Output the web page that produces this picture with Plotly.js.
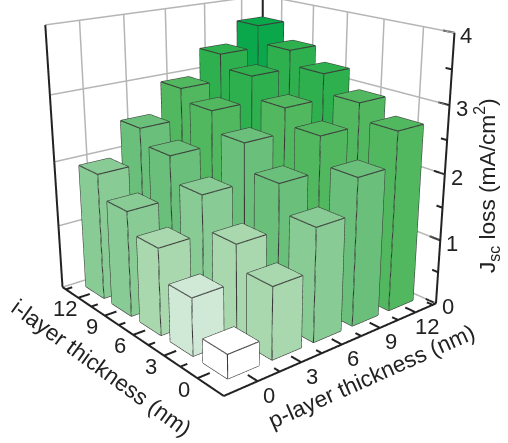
<!DOCTYPE html>
<html><head><meta charset="utf-8">
<script src="https://cdn.plot.ly/plotly-3.0.1.min.js"></script>
<style>html,body{margin:0;padding:0;background:#fff;overflow:hidden;width:508px;height:443px}#w{position:relative;width:508px;height:443px;overflow:hidden}#c{position:absolute;left:-230px;top:-247px;width:952px;height:830px}</style>
</head><body><div id="w"><div id="c"></div></div>
<script>
const pLayer=[0,3,6,9,12];
const iLayer=[0,3,6,9,12];
const jscI0=[0.35,1.06,1.68,2.2,2.7];
const jscI3=[0.85,1.4,2.08,2.6,2.94];
const jscI6=[1.3,1.88,2.47,2.84,3.22];
const jscI9=[1.6,2.25,2.77,3.16,3.44];
const jscI12=[1.94,2.48,2.95,3.36,3.7];
const values=[jscI0,jscI3,jscI6,jscI9,jscI12];
const zTicks=[0,1,2,3,4];
const bandColors=['#ffffff','#d0e9d6','#a9d8ae','#88cb94','#6abf7a','#52b860','#2fb04e','#0aa84a'];
const xr=[-2.2,13.8],yr=[-2.2,13.9],zr=[0,4],hw=1.05;
const vx=[],vy=[],vz=[],fi=[],fj=[],fk=[],fc=[];
const ex=[],ey=[],ez=[];
function seg(a,b,arr){arr[0].push(a[0],b[0],null);arr[1].push(a[1],b[1],null);arr[2].push(a[2],b[2],null);}
const edges=[ex,ey,ez];
iLayer.forEach((iv,r)=>pLayer.forEach((pv,c)=>{
 const h=values[r][c],n=vx.length;
 const col=bandColors[Math.min(7,Math.floor(h/0.5))];
 const xs=[pv-hw,pv+hw,pv+hw,pv-hw],ys=[iv-hw,iv-hw,iv+hw,iv+hw];
 for(const zz of [0,h])for(let k=0;k<4;k++){vx.push(xs[k]);vy.push(ys[k]);vz.push(zz);}
 const q=(a,b,cc,d)=>{fi.push(n+a,n+a);fj.push(n+b,n+cc);fk.push(n+cc,n+d);fc.push(col,col);};
 q(4,5,6,7);q(0,1,5,4);q(1,2,6,5);q(2,3,7,6);q(3,0,4,7);
 for(let k=0;k<4;k++){
  seg([xs[k],ys[k],h],[xs[(k+1)%4],ys[(k+1)%4],h],edges);
  seg([xs[k],ys[k],0],[xs[k],ys[k],h],edges);
  seg([xs[k],ys[k],0],[xs[(k+1)%4],ys[(k+1)%4],0],edges);
 }
}));
const gx=[],gy=[],gz=[],gl=[gx,gy,gz];
pLayer.forEach(v=>{seg([v,yr[1],0],[v,yr[1],4],gl);});
iLayer.forEach(v=>{seg([xr[1],v,0],[xr[1],v,4],gl);});
zTicks.slice(1).forEach(z=>{seg([xr[0],yr[1],z],[xr[1],yr[1],z],gl);seg([xr[1],yr[0],z],[xr[1],yr[1],z],gl);});
seg([xr[0],yr[1],0],[xr[1],yr[1],0],gl);seg([xr[1],yr[0],0],[xr[1],yr[1],0],gl);
const bx=[],by=[],bz=[],bl=[bx,by,bz];
seg([xr[0],yr[0],0],[xr[1],yr[0],0],bl);seg([xr[0],yr[0],0],[xr[0],yr[1],0],bl);
seg([xr[1],yr[0],0],[xr[1],yr[0],4],bl);seg([xr[0],yr[1],0],[xr[0],yr[1],4],bl);seg([xr[1],yr[1],0],[xr[1],yr[1],4],bl);
pLayer.forEach(v=>{seg([v,yr[0],0],[v,yr[0]+0.8,0],bl);seg([v+1.5,yr[0],0],[v+1.5,yr[0]+0.45,0],bl);});
iLayer.forEach(v=>{seg([xr[0],v,0],[xr[0]+0.8,v,0],bl);seg([xr[0],v+1.5,0],[xr[0]+0.45,v+1.5,0],bl);});
zTicks.forEach(z=>{seg([xr[1],yr[0],z],[xr[1],yr[0]+0.8,z],bl);if(z<4)seg([xr[1],yr[0],z+0.5],[xr[1],yr[0]+0.45,z+0.5],bl);});
const font={family:'Liberation Sans, Arial, sans-serif',size:22,color:'#222'};
const tfont={family:'Liberation Sans, Arial, sans-serif',size:22.7,color:'#222'};
const anns=[];
const A=o=>anns.push(Object.assign({showarrow:false,xanchor:'center',yanchor:'middle',font},o));
pLayer.forEach(v=>A({x:v,y:yr[0],z:0,text:String(v),yshift:-14,xshift:11}));
iLayer.forEach(v=>A({x:xr[0],y:v,z:0,text:String(v),yshift:-11,xshift:-13}));
zTicks.forEach(z=>A({x:xr[1],y:yr[0],z:z,text:String(z),xshift:12,yshift:-3}));
A({x:5,y:yr[0],z:0,text:'p-layer thickness (nm)',textangle:-24,yshift:-26,xshift:43,font:tfont});
A({x:xr[0],y:5,z:0,text:'i-layer thickness (nm)',textangle:36,yshift:-26,xshift:-41,font:tfont});
A({x:xr[1],y:yr[0],z:2,text:'J<sub>sc</sub> loss (mA/cm<sup>2</sup>)',textangle:-90,xshift:42,yshift:-11,font:tfont});
const axis=r=>({range:[r[0]-0.03,r[1]+0.03],autorange:false,showgrid:false,zeroline:false,showbackground:false,showspikes:false,showline:false,showticklabels:false,ticks:'',title:{text:''}});
const data=[
 {type:'mesh3d',x:vx,y:vy,z:vz,i:fi,j:fj,k:fk,facecolor:fc,flatshading:true,hoverinfo:'skip',lighting:{ambient:1,diffuse:0,specular:0,fresnel:0,roughness:1},showscale:false},
 {type:'scatter3d',mode:'lines',x:ex,y:ey,z:ez,line:{color:'#3a3a3a',width:2.2},hoverinfo:'skip',connectgaps:false},
 {type:'scatter3d',mode:'lines',x:gx,y:gy,z:gz,line:{color:'#b5b5b5',width:3},hoverinfo:'skip',connectgaps:false},
 {type:'scatter3d',mode:'lines',x:bx,y:by,z:bz,line:{color:'#222',width:4},hoverinfo:'skip',connectgaps:false}
];
const layout={width:952,height:830,margin:{l:0,r:0,t:0,b:0},showlegend:false,paper_bgcolor:'#fff',
 scene:{domain:{x:[0,1],y:[0,1]},xaxis:axis(xr),yaxis:axis(yr),zaxis:axis([-0.01,4.01]),aspectmode:'manual',aspectratio:{x:1,y:1,z:1.03},
 camera:{eye:{x:-2.16,y:-2.63,z:1.17},center:{x:0,y:0,z:0},up:{x:0,y:0,z:1},projection:{type:'perspective'}},annotations:anns}};
Plotly.newPlot('c',data,layout,{displayModeBar:false});
</script></body></html>
